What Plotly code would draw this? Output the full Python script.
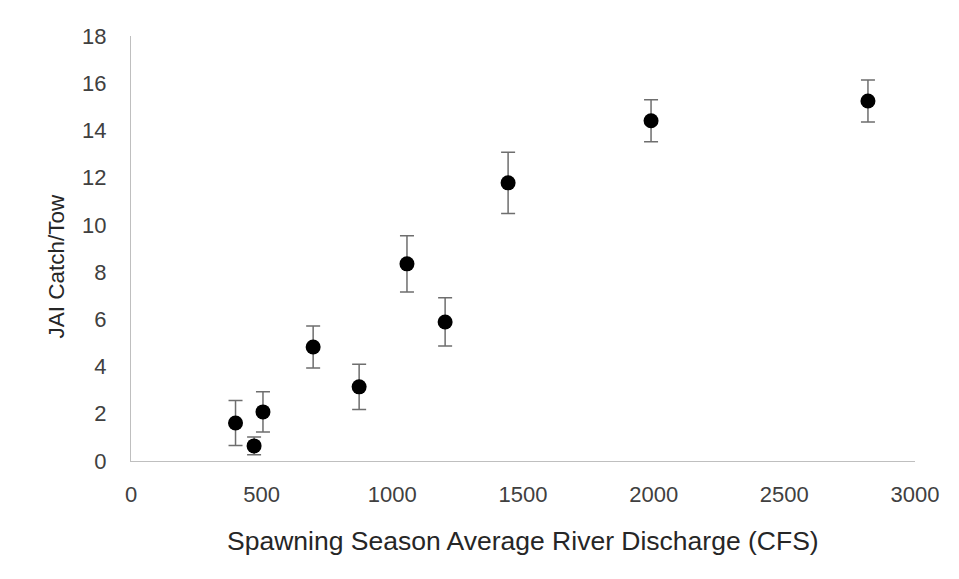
import plotly.graph_objects as go

discharge = [400, 471, 505, 697, 873, 1056, 1202, 1443, 1990, 2820]
catch_per_tow = [1.61, 0.64, 2.08, 4.83, 3.14, 8.35, 5.89, 11.78, 14.41, 15.25]
error = [0.95, 0.38, 0.85, 0.89, 0.96, 1.19, 1.02, 1.3, 0.89, 0.89]

x_ticks = [0, 500, 1000, 1500, 2000, 2500, 3000]
y_ticks = [0, 2, 4, 6, 8, 10, 12, 14, 16, 18]

x_title = "Spawning Season Average River Discharge (CFS)"
y_title = "JAI Catch/Tow"

fig = go.Figure()
fig.add_trace(go.Scatter(
    x=discharge, y=catch_per_tow, mode="markers",
    marker=dict(color="black", size=15),
    error_y=dict(type="data", array=error, visible=True,
                 color="#6e6e6e", thickness=1.5, width=7),
    showlegend=False,
))

font_family = "Liberation Sans, Arial, sans-serif"
plot_h = 425
plot_w = 784
fig.update_layout(
    width=959, height=579,
    paper_bgcolor="white", plot_bgcolor="white",
    margin=dict(l=123, r=52, t=28, b=126),
    font=dict(family=font_family, color="#404040", size=22),
    xaxis=dict(
        range=[0, 3000], tickvals=x_ticks, showgrid=False, zeroline=False,
        showline=True, linecolor="#bfbfbf", linewidth=1, ticks="",
        tickfont=dict(size=22, color="#404040"), ticklabelstandoff=14,
    ),
    yaxis=dict(
        range=[0, 18], tickvals=y_ticks, showgrid=False, zeroline=False,
        showline=True, linecolor="#bfbfbf", linewidth=1, ticks="",
        tickfont=dict(size=22, color="#404040"), ticklabelstandoff=19,
    ),
    annotations=[
        dict(text=x_title, xref="paper", yref="paper", x=0.5, y=-80 / plot_h,
             xanchor="center", yanchor="middle", showarrow=False,
             font=dict(size=26.5, color="#262626")),
        dict(text=y_title, xref="paper", yref="paper", x=-75 / plot_w,
             y=0.5 - 18 / plot_h,
             xanchor="center", yanchor="middle", showarrow=False, textangle=-90,
             font=dict(size=22.5, color="#262626")),
    ],
)

fig.write_html("out.html")
